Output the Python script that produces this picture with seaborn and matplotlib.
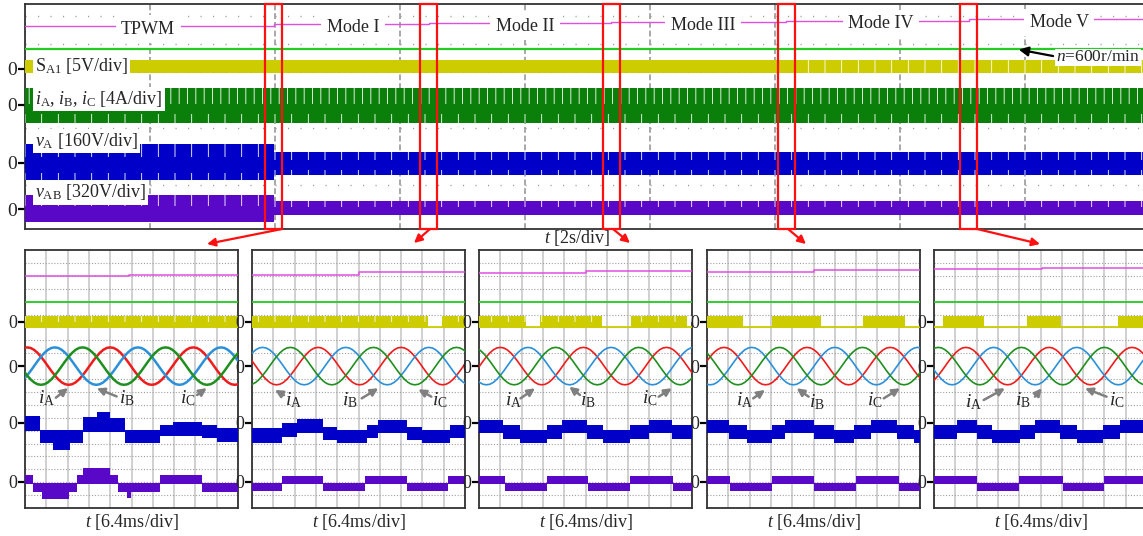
import numpy as np
import matplotlib
matplotlib.use("Agg")
import matplotlib.pyplot as plt
from matplotlib.patches import Rectangle, FancyArrowPatch
import seaborn as sns

# ---------------- long record: t [s], screen units 0..8 ----------------
mode_names = ["TPWM", "Mode I", "Mode II", "Mode III", "Mode IV", "Mode V"]
mode_switch_t = [3.98, 6.46, 9.38, 12.18, 15.1]
mode_level = [7.22, 7.28, 7.32, 7.36, 7.41, 7.46]
speed_level = 6.4
sa1_band = [6.01, 5.55]
iabc_band = [5.01, 3.77]
va_top = [3.02, 2.74]      # TPWM / after TPWM
va_bot = [1.74, 1.92]
vab_top = [1.21, 1.0]
vab_bot = [0.25, 0.5]
zero_long = [5.69, 4.41, 2.35, 0.71]

# ---------------- zoomed windows: x [div] 0..10, screen units 0..20 ----------------
mag_before = [18.0, 18.1, 18.24, 18.3, 18.5]
mag_after = [18.1, 18.27, 18.37, 18.45, 18.6]
mag_step = [4.9, 5.0, 5.0, 5.0, 5.05]
speed_zoom = 16.0
sa1_hi, sa1_lo = 14.9, 13.95
sa1_on = [
    [(0, 10)],
    [(0, 8.26), (8.9, 10)],
    [(0, 2.2), (2.86, 5.76), (7.13, 9.76)],
    [(0, 1.69), (3.06, 5.33), (7.32, 9.28)],
    [(0.4, 2.35), (4.35, 5.95), (8.65, 10)],
]
i_zero = 11.0
i_amp = 1.45
i_period = 3.9
ia_peak = [0.1, 3.1, 1.0, 0.8, 1.5]
# one period of a phase current, read every 1/24 period starting at the peak
i_cycle = [1.0, 0.97, 0.87, 0.71, 0.5, 0.26, 0.0, -0.26, -0.5, -0.71, -0.87, -0.97,
           -1.0, -0.97, -0.87, -0.71, -0.5, -0.26, 0.0, 0.26, 0.5, 0.71, 0.87, 0.97]

va_edges = [
    [0, 0.7, 1.33, 2.11, 2.74, 3.37, 3.99, 4.69, 6.34, 6.97, 8.29, 9.0, 10],
    [0, 1.39, 2.1, 3.35, 3.98, 5.38, 5.93, 7.26, 7.97, 9.3, 10],
    [0, 1.13, 1.92, 3.17, 3.88, 5.05, 5.84, 7.1, 7.96, 9.06, 10],
    [0, 1.02, 1.88, 3.06, 3.68, 5.02, 5.96, 6.9, 7.68, 8.93, 9.72, 10],
    [0, 1.06, 2.0, 2.7, 4.04, 4.74, 5.92, 6.7, 7.95, 8.73, 10],
]
va_tops = [
    [7.13, 6.05, 6.05, 6.05, 7.08, 7.42, 6.95, 6.05, 6.43, 6.7, 6.43, 6.18],
    [6.18, 6.56, 6.9, 6.3, 6.05, 6.43, 6.82, 6.3, 6.05, 6.43],
    [6.85, 6.42, 6.02, 6.42, 6.85, 6.42, 6.02, 6.42, 6.85, 6.42],
    [6.85, 6.42, 6.02, 6.42, 6.85, 6.42, 6.02, 6.42, 6.85, 6.42, 6.02],
    [6.42, 6.85, 6.42, 6.02, 6.42, 6.85, 6.42, 6.02, 6.42, 6.85],
]
va_bots = [
    [5.94, 5.0, 4.5, 5.0, 5.9, 5.9, 5.9, 5.0, 5.58, 5.58, 5.43, 5.09],
    [5.0, 5.53, 5.79, 5.27, 5.0, 5.43, 5.79, 5.27, 5.0, 5.43],
    [5.8, 5.38, 5.0, 5.38, 5.8, 5.38, 5.0, 5.38, 5.8, 5.38],
    [5.8, 5.38, 5.0, 5.38, 5.8, 5.38, 5.0, 5.38, 5.8, 5.38, 5.0],
    [5.38, 5.8, 5.38, 5.0, 5.38, 5.8, 5.38, 5.0, 5.38, 5.8],
]
vab_edges = [
    [0, 0.39, 0.78, 2.08, 2.43, 2.74, 3.99, 4.38, 4.77, 4.98, 6.34, 8.29, 10],
    [0, 1.39, 3.35, 5.3, 7.26, 9.22, 10],
    [0, 1.21, 3.17, 5.13, 7.1, 9.1, 10],
    [0, 1.07, 3.06, 5.02, 7.0, 9.0, 10],
    [0, 2.04, 4.01, 6.05, 7.96, 10],
]
vab_tops = [
    [2.56, 1.91, 1.91, 1.91, 2.56, 3.07, 2.56, 1.91, 1.91, 1.91, 2.56, 1.91],
    [1.95, 2.5, 1.95, 2.5, 1.95, 2.5],
    [2.5, 1.95, 2.5, 1.95, 2.5, 1.95],
    [2.5, 1.95, 2.5, 1.95, 2.5, 1.95],
    [2.5, 1.95, 2.5, 1.95, 2.5],
]
vab_bots = [
    [1.83, 1.27, 0.7, 1.27, 1.83, 1.83, 1.83, 1.27, 0.75, 1.27, 1.83, 1.27],
    [1.28, 1.85, 1.28, 1.85, 1.28, 1.85],
    [1.85, 1.28, 1.85, 1.28, 1.85, 1.28],
    [1.85, 1.28, 1.85, 1.28, 1.85, 1.28],
    [1.85, 1.28, 1.85, 1.28, 1.85],
]
zero_zoom = [14.44, 11.0, 6.61, 2.04]

# label / arrow placement in the zoom windows: (text x, text y, tail x, tail y, tip x, tip y)
cur_labels = ["A", "B", "C"]
cur_notes = [
    [(1.02, 8.55, 1.45, 8.55, 2.02, 9.3), (4.77, 8.5, 4.3, 8.65, 3.37, 9.28), (7.65, 8.55, 8.08, 8.76, 8.53, 9.3)],
    [(1.94, 8.37, 1.5, 8.75, 1.08, 9.15), (4.6, 8.37, 5.15, 8.5, 5.93, 9.28), (8.83, 8.37, 8.42, 8.63, 7.81, 9.2)],
    [(1.61, 8.37, 1.95, 8.5, 2.63, 9.28), (5.13, 8.37, 4.74, 8.76, 4.24, 9.4), (8.03, 8.5, 8.44, 8.63, 9.05, 9.28)],
    [(1.78, 8.37, 2.17, 8.5, 2.72, 9.15), (5.15, 8.24, 4.77, 8.63, 4.21, 9.28), (7.89, 8.37, 8.3, 8.5, 9.06, 9.28)],
    [(1.85, 8.24, 2.33, 8.37, 3.33, 9.28), (4.19, 8.37, 4.74, 8.63, 5.06, 9.28), (8.58, 8.37, 8.1, 8.63, 7.09, 9.28)],
]

# ---------------- style ----------------
sns.set_style("white")
plt.rcParams["font.family"] = ["Liberation Serif", "DejaVu Serif"]
plt.rcParams["mathtext.fontset"] = "custom"
plt.rcParams["mathtext.rm"] = "Liberation Serif"
plt.rcParams["mathtext.it"] = "Liberation Serif:italic"
plt.rcParams["hatch.color"] = "white"
plt.rcParams["hatch.linewidth"] = 0.6

C_MAG = "#e050e0"
C_SPD = "#22cc22"
C_YEL = "#cccc00"
C_IBAND = "#0a800a"
C_BLUE = "#0000c8"
C_PURP = "#5a08c8"
C_IA, C_IB, C_IC = "#ee1c1c", "#2b90d9", "#1f8f1f"
FS = 13

W, H = 1143, 536
fig = plt.figure(figsize=(W / 100, H / 100), dpi=100)


def px_axes(x0, y0, x1, y1):
    return fig.add_axes([x0 / W, 1 - y1 / H, (x1 - x0) / W, (y1 - y0) / H])


def frame(ax):
    for s in ax.spines.values():
        s.set_color("#333333")
        s.set_linewidth(1.3)
        s.set_visible(True)


def zero_marks(ax, levels, size):
    ax.set_yticks(levels, labels=["0"] * len(levels))
    ax.tick_params(axis="y", which="major", length=5, width=1.6, color="black",
                   pad=0.5, labelsize=size, left=True, direction="out")
    ax.tick_params(axis="y", which="minor", length=0)


def step_band(ax, edges, tops, bots, color, z=3):
    x = np.asarray(edges, float)
    t = np.append(tops, tops[-1])
    b = np.append(bots, bots[-1])
    ax.fill_between(x, b, t, step="post", color=color, lw=0, zorder=z)


def spikes(ax, x, top, bot, hatch, z=4):
    ax.fill_between(x, bot, top, step="post", facecolor="none", edgecolor="white",
                    hatch=hatch, lw=0, zorder=z)


# ================= long record =================
ax = px_axes(25, 4, 1150, 229)
ax.set_xlim(0, 18)
ax.set_ylim(0, 8)
frame(ax)
ax.set_xticks(np.arange(0, 19, 2))
ax.tick_params(axis="x", length=0, labelbottom=False)
zero_marks(ax, zero_long, FS + 1)
ax.set_yticks(np.arange(0.58, 8, 1.0), minor=True)
ax.grid(False)
ax.xaxis.grid(True, which="major", color="#a8a8a8", lw=1.4, ls=(0, (3, 1.5)))
ax.yaxis.grid(True, which="minor", color="#9a9a9a", lw=1.0, ls=(0, (0.8, 8.2)))

# mode indicator staircase
t_mode = [0] + mode_switch_t + [18]
sns.lineplot(x=t_mode, y=mode_level + [mode_level[-1]], ax=ax, color=C_MAG, lw=1.0,
             drawstyle="steps-post", estimator=None, sort=False, zorder=3)
mode_centre = [1.97, 5.25, 8.0, 10.85, 13.7, 16.55]
for name, tc, lv in zip(mode_names, mode_centre, mode_level):
    ax.text(tc, lv - 0.12, name, ha="center", va="center", fontsize=FS, zorder=6,
            bbox=dict(boxstyle="square,pad=0.3", fc="white", ec="none"))

# speed
sns.lineplot(x=[0, 18], y=[speed_level, speed_level], ax=ax, color=C_SPD, lw=1.6,
             estimator=None, sort=False, zorder=3)

t_ab = [0, mode_switch_t[0], 18]
step_band(ax, [0, 18], [sa1_band[0]], [sa1_band[1]], C_YEL)
spikes(ax, [mode_switch_t[3] + 0.2, 18], [sa1_band[0]] * 2, [sa1_band[1]] * 2, "|")

step_band(ax, [0, 18], [iabc_band[0]], [iabc_band[1]], C_IBAND)
ih = iabc_band[0] - iabc_band[1]
spikes(ax, [0, 18], [iabc_band[0]] * 2, [iabc_band[0] - 0.45 * ih] * 2, "||")
spikes(ax, [0, 18], [iabc_band[1] + 0.25 * ih] * 2, [iabc_band[1]] * 2, "|")

va_t = va_top + [va_top[-1]]
va_b = va_bot + [va_bot[-1]]
step_band(ax, t_ab, va_top, va_bot, C_BLUE)
spikes(ax, t_ab, va_t, [t - 0.35 * (t - b) for t, b in zip(va_t, va_b)], "|")
spikes(ax, t_ab, [b + 0.2 * (t - b) for t, b in zip(va_t, va_b)], va_b, "|")

vab_t = vab_top + [vab_top[-1]]
vab_b = vab_bot + [vab_bot[-1]]
step_band(ax, t_ab, vab_top, vab_bot, C_PURP)
spikes(ax, t_ab, vab_t, [t - 0.4 * (t - b) for t, b in zip(vab_t, vab_b)], "|")

lab_kw = dict(ha="left", va="center", fontsize=FS, zorder=7,
              bbox=dict(boxstyle="square,pad=0.12", fc="white", ec="none"))
ax.text(0.16, 5.8, r"S$_{\mathrm{A1}}$ [5V/div]", **lab_kw)
ax.text(0.16, 4.62, r"$i_{\mathrm{A}}$, $i_{\mathrm{B}}$, $i_{\mathrm{C}}$ [4A/div]", **lab_kw)
ax.text(0.16, 3.12, r"$v_{\mathrm{A}}$ [160V/div]", **lab_kw)
ax.text(0.16, 1.3, r"$v_{\mathrm{AB}}$ [320V/div]", **lab_kw)

ax.text(16.5, 6.1, r"$n$=600r/min", ha="left", va="center", fontsize=FS - 0.5, zorder=7,
        clip_on=False, bbox=dict(boxstyle="square,pad=0.05", fc="white", ec="none"))
ax.annotate("", xy=(15.9, speed_level - 0.02), xytext=(16.45, 6.15),
            arrowprops=dict(arrowstyle="-|>", color="black", lw=1.6, mutation_scale=14,
                            shrinkA=0, shrinkB=0), zorder=7)

for ts in mode_switch_t:
    ax.add_patch(Rectangle((ts - 0.135, 0), 0.27, 8, fill=False, ec="#ff1010", lw=1.6,
                           zorder=8, clip_on=False))

fig.text(577 / W, 1 - 238 / H, r"$t$ [2s/div]", ha="center", va="center", fontsize=FS)

# red arrows from the boxes to the zoom windows (figure pixels)
arrow_from = [(282, 229), (430, 229), (613, 229), (788, 229), (977, 229)]
arrow_to = [(207, 244), (414, 243), (630, 243), (806, 244), (1040, 244)]
for (x0, y0), (x1, y1) in zip(arrow_from, arrow_to):
    fig.add_artist(FancyArrowPatch(
        (x0 / W, 1 - y0 / H), (x1 / W, 1 - y1 / H), transform=fig.transFigure,
        arrowstyle="-|>", color="#ff1010", lw=1.6, mutation_scale=12, shrinkA=0, shrinkB=0))

# ================= zoom windows =================
lefts = [25, 252, 479, 707, 934]
n_cyc = len(i_cycle)
dt = i_period / n_cyc
cyc = np.array(i_cycle)

for p, x0 in enumerate(lefts):
    a = px_axes(x0, 250, x0 + 213, 508)
    a.set_xlim(0, 10)
    a.set_ylim(0, 20)
    frame(a)
    a.set_xticks(np.arange(0, 11, 1))
    a.tick_params(axis="x", length=0, labelbottom=False)
    zero_marks(a, zero_zoom, FS)
    a.set_yticks(np.arange(1, 20, 1), minor=True)
    a.grid(False)
    a.xaxis.grid(True, which="major", color="#c4c4c4", lw=1.1)
    a.yaxis.grid(True, which="minor", color="#a0a0a0", lw=0.8, ls=(0, (1, 1.6)))

    sns.lineplot(x=[0, mag_step[p], 10], y=[mag_before[p], mag_after[p], mag_after[p]], ax=a,
                 color=C_MAG, lw=1.1, drawstyle="steps-post", estimator=None, sort=False, zorder=3)
    sns.lineplot(x=[0, 10], y=[speed_zoom, speed_zoom], ax=a, color=C_SPD, lw=1.3,
                 estimator=None, sort=False, zorder=3)

    # S_A1 gate signal
    sns.lineplot(x=[0, 10], y=[sa1_lo + 0.05, sa1_lo + 0.05], ax=a, color=C_YEL, lw=1.3,
                 estimator=None, sort=False, zorder=3)
    for s0, s1 in sa1_on[p]:
        a.fill_between([s0, s1], sa1_lo, sa1_hi, color=C_YEL, lw=0, zorder=3)
    if p < 3:
        spikes(a, [0, 10], [sa1_hi] * 2, [sa1_hi - 0.45] * 2, "|")

    # phase currents
    for ph, col in enumerate([C_IA, C_IB, C_IC]):
        t0 = ia_peak[p] + ph * i_period / 3
        k = np.arange(int(np.floor(-t0 / dt)) - 1, int(np.ceil((10 - t0) / dt)) + 2)
        sns.lineplot(x=t0 + k * dt, y=i_zero + i_amp * cyc[k % n_cyc], ax=a, color=col,
                     lw=1.8 if p == 0 else 1.2, estimator=None, sort=False, zorder=4)

    step_band(a, va_edges[p], va_tops[p], va_bots[p], C_BLUE)
    step_band(a, vab_edges[p], vab_tops[p], vab_bots[p], C_PURP)

    for ph, (tx, ty, ax0, ay0, ax1, ay1) in enumerate(cur_notes[p]):
        a.text(tx, ty, r"$i_{\mathrm{%s}}$" % cur_labels[ph], ha="center", va="center",
               fontsize=FS + 1, zorder=6)
        a.annotate("", xy=(ax1, ay1), xytext=(ax0, ay0),
                   arrowprops=dict(arrowstyle="-|>", color="#808080", lw=1.8, mutation_scale=11,
                                   shrinkA=0, shrinkB=0), zorder=6)

    a.text(0.5, -14 / 258, r"$t$ [6.4ms/div]", transform=a.transAxes, ha="center",
           va="center", fontsize=FS)

fig.savefig("out.png", dpi=100)
